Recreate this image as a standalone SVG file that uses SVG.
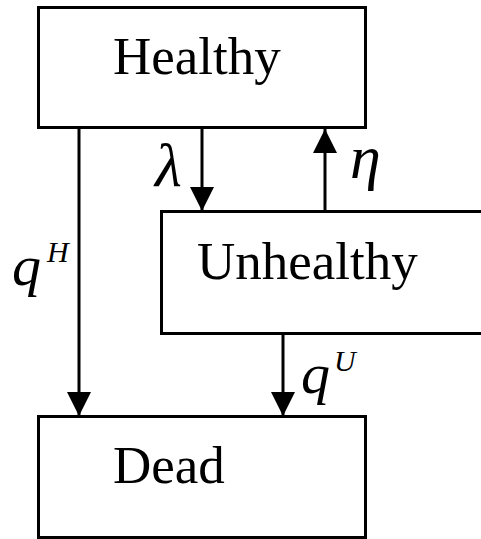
<svg xmlns="http://www.w3.org/2000/svg" width="481" height="539" viewBox="0 0 481 539">
<defs>
<style>
.box{fill:#fff;stroke:#000;stroke-width:3}
.lbl{font-family:"Liberation Serif","Times New Roman",serif;font-size:53px;fill:#000}
.sym{font-family:"Liberation Serif","Times New Roman",serif;font-style:italic;fill:#000}
.ln{stroke:#000;stroke-width:3;fill:none}
</style>
<marker id="ah" markerUnits="userSpaceOnUse" markerWidth="24" markerHeight="24" viewBox="0 0 22 22" refX="22" refY="11" orient="auto">
<path d="M0,0 L22,11 L0,22 Z" fill="#000"/>
</marker>
</defs>
<g id="healthy">
<rect class="box" x="38.5" y="7.5" width="327" height="120"/>
<text class="lbl" x="113" y="74">Healthy</text>
</g>
<g id="unhealthy">
<rect class="box" x="161.5" y="211.5" width="340" height="122"/>
<text class="lbl" x="197" y="279">Unhealthy</text>
</g>
<g id="dead">
<rect class="box" x="38.5" y="416.5" width="327" height="121"/>
<text class="lbl" x="113" y="483">Dead</text>
</g>
<g id="connectors">
<line class="ln" x1="79" y1="128" x2="79" y2="416" marker-end="url(#ah)"/>
<line class="ln" x1="202" y1="128" x2="202" y2="211" marker-end="url(#ah)"/>
<line class="ln" x1="325" y1="211" x2="325" y2="129" marker-end="url(#ah)"/>
<line class="ln" x1="283" y1="334" x2="283" y2="416" marker-end="url(#ah)"/>
</g>
<g id="labels">
<text class="sym" x="155" y="186" font-size="62">λ</text>
<text class="sym" x="350" y="178" font-size="62">η</text>
<text class="sym" x="12" y="285" font-size="58">q</text>
<text class="sym" x="47" y="262" font-size="30">H</text>
<text class="sym" x="301" y="393" font-size="58">q</text>
<text class="sym" x="334" y="371" font-size="30">U</text>
</g>
</svg>
